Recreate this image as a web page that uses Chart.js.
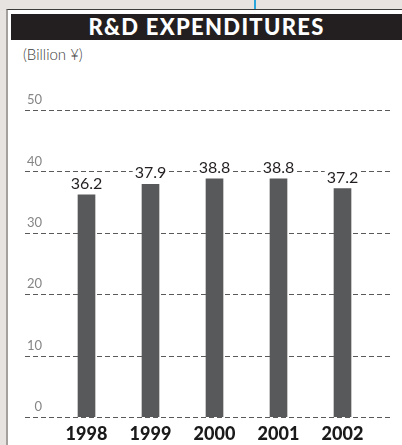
<!DOCTYPE html>
<html>
<head>
<meta charset="utf-8">
<title>R&amp;D Expenditures</title>
<script src="https://cdn.jsdelivr.net/npm/chart.js@4.4.1/dist/chart.umd.min.js"></script>
<style>
    html, body { margin: 0; padding: 0; }
    body {
        width: 402px; height: 445px; position: relative; overflow: hidden;
        background: #e6e3e0; font-family: Lato, sans-serif;
    }
    .tab-marker { position: absolute; left: 254px; top: 0; width: 2px; height: 9px; background: #29a6dc; }
    .panel {
        position: absolute; left: 6px; top: 9px; right: 0; bottom: 0;
        background: #fff; border-left: 2px solid #a3a09d; border-top: 1px solid #3b3b3b;
    }
    .title-bar {
        position: absolute; left: 11px; top: 14px; right: 0; height: 26px;
        background: #231f20; color: #fff; text-align: center;
        font-size: 22px; font-weight: 900; line-height: 26px; letter-spacing: 1.3px;
    }
    .unit { position: absolute; left: 23px; top: 45px; font-size: 15px; font-weight: 300; color: #3c3c3c; }
    #rd-chart { position: absolute; left: 0; top: 0; }
</style>
</head>
<body>
<div class="tab-marker"></div>
<div class="panel"></div>
<div class="title-bar">R&amp;D EXPENDITURES</div>
<div class="unit">(Billion ¥)</div>
<canvas id="rd-chart" width="402" height="445"></canvas>

<script>
const years = ['1998', '1999', '2000', '2001', '2002'];
const expenditures = [36.2, 37.9, 38.8, 38.8, 37.2];
const yTicks = [0, 10, 20, 30, 40, 50];

// dashed horizontal rules, running a bit wider than the plot area
const dashedGrid = {
    id: 'dashedGrid',
    beforeDatasetsDraw(chart) {
        const ctx = chart.ctx;
        const yScale = chart.scales.y;
        ctx.save();
        ctx.strokeStyle = '#5a5a5a';
        ctx.lineWidth = 1;
        ctx.setLineDash([5, 3]);
        yScale.ticks.forEach(tick => {
            const py = Math.round(yScale.getPixelForValue(tick.value)) + 0.5;
            ctx.beginPath();
            ctx.moveTo(25, py);
            ctx.lineTo(390, py);
            ctx.stroke();
        });
        ctx.restore();
    }
};

// value above each bar, on a white patch so the rule doesn't run through it
const valueLabels = {
    id: 'valueLabels',
    afterDatasetsDraw(chart) {
        const ctx = chart.ctx;
        const meta = chart.getDatasetMeta(0);
        ctx.save();
        ctx.font = '400 16px Lato';
        ctx.textAlign = 'center';
        ctx.textBaseline = 'alphabetic';
        meta.data.forEach((bar, i) => {
            const text = expenditures[i].toFixed(1);
            const w = ctx.measureText(text).width;
            const base = bar.y - 6;
            ctx.fillStyle = '#fff';
            ctx.fillRect(bar.x - w / 2 - 2, base - 12, w + 4, 13);
            ctx.fillStyle = '#231f20';
            ctx.fillText(text, bar.x, base);
        });
        ctx.restore();
    }
};

new Chart(document.getElementById('rd-chart'), {
    type: 'bar',
    data: {
        labels: years,
        datasets: [
            {
                data: expenditures,
                backgroundColor: '#58595b',
                barThickness: 17
            }
        ]
    },
    options: {
        responsive: false,
        animation: false,
        layout: {
            padding: { top: 110, right: 27.5, bottom: 0, left: 0 }
        },
        plugins: {
            legend: { display: false },
            tooltip: { enabled: false }
        },
        scales: {
            x: {
                grid: { display: false, drawTicks: false },
                border: { display: false },
                ticks: {
                    color: '#1a1a1a',
                    font: { family: 'Lato', size: 18, weight: '900' },
                    padding: 6
                },
                afterFit: scale => { scale.height = 28; }
            },
            y: {
                min: 0,
                max: 50,
                grid: { display: false, drawTicks: false },
                border: { display: false },
                afterBuildTicks: scale => {
                    scale.ticks = yTicks.map(v => ({ value: v }));
                },
                ticks: {
                    color: '#858585',
                    font: { family: 'Lato', size: 13, weight: '400' },
                    padding: 12.5,
                    labelOffset: -10
                },
                afterFit: scale => { scale.width = 54.5; }
            }
        }
    },
    plugins: [dashedGrid, valueLabels]
});
</script>
</body>
</html>
